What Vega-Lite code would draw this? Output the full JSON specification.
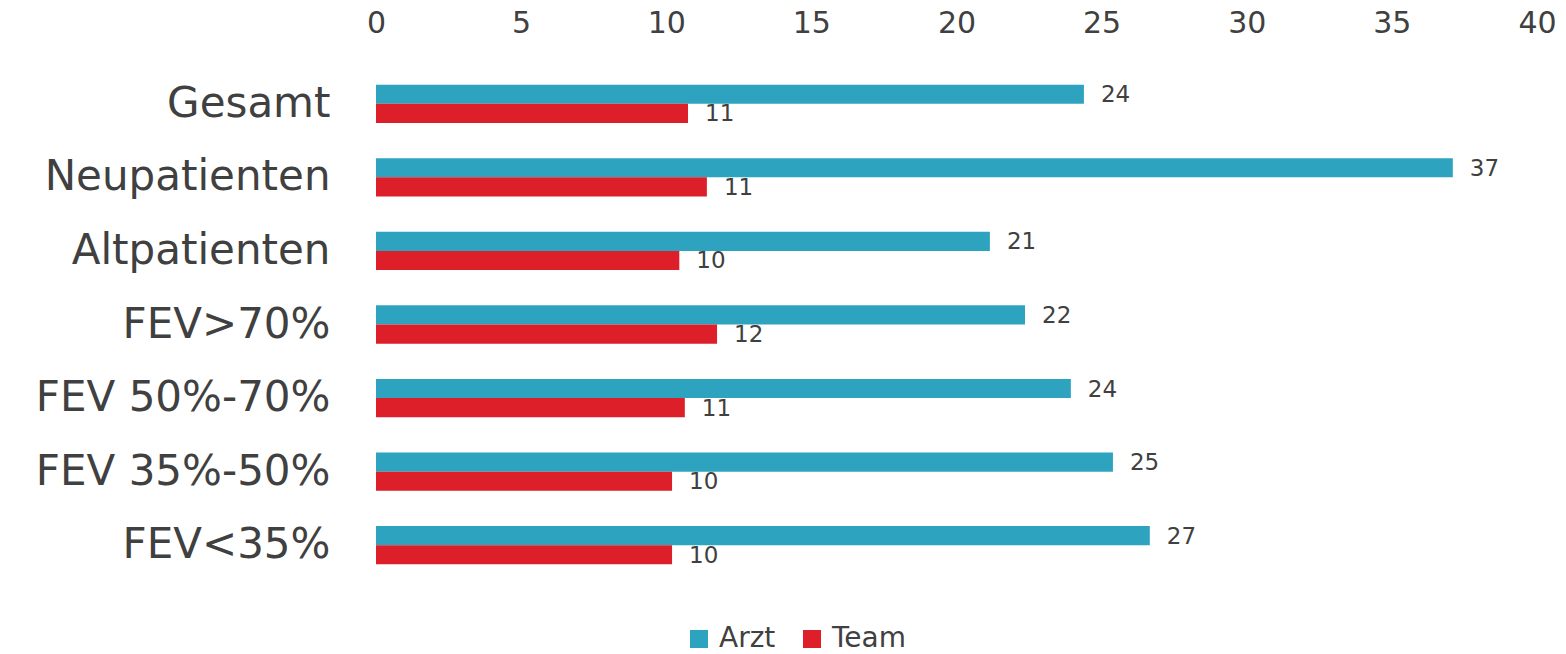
{
  "$schema": "https://vega.github.io/schema/vega-lite/v6.json",
  "width": 1161,
  "height": 515,
  "padding": {"left": 0, "top": 0, "right": 0, "bottom": 0},
  "autosize": {"type": "pad"},
  "config": {"font": "DejaVu Sans", "view": {"stroke": null}},
  "data": {
    "values": [
      {"cat": "Gesamt", "series": "Arzt", "value": 24.39},
      {"cat": "Gesamt", "series": "Team", "value": 10.75},
      {"cat": "Neupatienten", "series": "Arzt", "value": 37.1},
      {"cat": "Neupatienten", "series": "Team", "value": 11.4},
      {"cat": "Altpatienten", "series": "Arzt", "value": 21.15},
      {"cat": "Altpatienten", "series": "Team", "value": 10.45},
      {"cat": "FEV>70%", "series": "Arzt", "value": 22.36},
      {"cat": "FEV>70%", "series": "Team", "value": 11.75},
      {"cat": "FEV 50%-70%", "series": "Arzt", "value": 23.94},
      {"cat": "FEV 50%-70%", "series": "Team", "value": 10.64},
      {"cat": "FEV 35%-50%", "series": "Arzt", "value": 25.39},
      {"cat": "FEV 35%-50%", "series": "Team", "value": 10.2},
      {"cat": "FEV<35%", "series": "Arzt", "value": 26.66},
      {"cat": "FEV<35%", "series": "Team", "value": 10.2}
    ]
  },
  "encoding": {
    "y": {
      "field": "cat", "type": "nominal",
      "sort": ["Gesamt", "Neupatienten", "Altpatienten", "FEV>70%", "FEV 50%-70%", "FEV 35%-50%", "FEV<35%"],
      "scale": {"paddingInner": 0.48, "paddingOuter": 0.24},
      "axis": {"title": null, "domain": false, "ticks": false, "labelFontSize": 42, "labelColor": "#404040", "labelPadding": 46, "minExtent": 376, "maxExtent": 376, "labelLimit": 400}
    },
    "yOffset": {"field": "series", "sort": ["Arzt", "Team"]},
    "x": {
      "field": "value", "type": "quantitative",
      "scale": {"domain": [0, 40], "nice": false},
      "axis": {"orient": "top", "title": null, "domain": false, "ticks": false, "grid": false, "labelFlush": false, "labelOverlap": false, "values": [0, 5, 10, 15, 20, 25, 30, 35, 40], "labelFontSize": 30, "labelColor": "#404040", "labelPadding": 29, "minExtent": 67, "maxExtent": 67}
    }
  },
  "layer": [
    {
      "mark": {"type": "bar"},
      "encoding": {
        "color": {
          "field": "series", "type": "nominal",
          "scale": {"domain": ["Arzt", "Team"], "range": ["#2EA3C0", "#DC1F29"]},
          "legend": {"title": null, "orient": "none", "direction": "horizontal", "legendX": 309, "legendY": 558, "symbolType": "square", "symbolSize": 324, "symbolStrokeWidth": 0, "labelFontSize": 28, "labelColor": "#404040", "columnPadding": 22, "labelOffset": 6}
        }
      }
    },
    {
      "mark": {"type": "text", "align": "left", "baseline": "middle", "dx": 17, "dy": 1, "fontSize": 23, "color": "#404040"},
      "encoding": {"text": {"field": "value", "type": "quantitative", "format": ".0f"}}
    }
  ]
}
